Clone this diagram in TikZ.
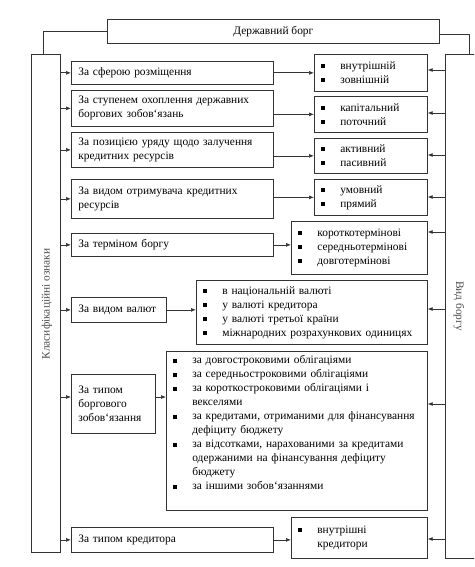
\documentclass[tikz,border=0pt]{standalone}
\usepackage{fontspec}
\setmainfont{Liberation Serif}
\usetikzlibrary{arrows.meta}
\newcommand\bl[1]{\makebox[19pt][l]{\raisebox{1.3pt}{\rule{4pt}{4pt}}}\mbox{#1}}
\newcommand\ct[1]{\hspace*{19pt}\mbox{#1}}
\newcommand\oneline[1]{\mbox{#1}}
\begin{document}
\begin{tikzpicture}[x=1pt,y=-1pt,
  font=\fontsize{11.4}{14}\selectfont,
  box/.style={draw=black!80, line width=0.7pt, anchor=north west, inner xsep=7pt, inner ysep=0pt, align=left},
  arr/.style={draw=black!80, line width=0.7pt, -{Latex[length=5pt,width=4pt]}},
  ln/.style={draw=black!80, line width=0.7pt},
  vlabel/.style={text=black!70, inner sep=0pt}]
\useasboundingbox (0,0) rectangle (474,567);
\clip (0,0) rectangle (474,567);

% title and side boxes
\node[box, minimum width=332pt, minimum height=24pt, align=center] (title) at (107,19) {Державний борг};
\node[box, minimum width=29pt, minimum height=498pt] (cls) at (31,54) {};
\node[box, minimum width=48pt, minimum height=504pt] (vb) at (445,54) {};
\node[vlabel, rotate=90] (clsT) at (47,304) {Класифікаційні ознаки};
\node[vlabel, rotate=-90] (vbT) at (459,306) {Вид боргу};

\draw[ln] (title.west) -| ([xshift=-2.5pt]cls.north);
\draw[ln] ([yshift=-3pt]title.east) -| (vb.north);

% category boxes
\node[box, minimum width=202pt, minimum height=23pt, text width=188pt] (c1) at (71,61) {\oneline{За сферою розміщення}};
\node[box, minimum width=202pt, minimum height=36pt, text width=188pt] (c2) at (71,90) {\oneline{За ступенем охоплення державних}\\ \oneline{боргових зобов`язань}};
\node[box, minimum width=202pt, minimum height=35pt, text width=188pt] (c3) at (71,132) {\oneline{За позицією уряду щодо залучення}\\ \oneline{кредитних ресурсів}};
\node[box, minimum width=202pt, minimum height=39pt, text width=188pt] (c4) at (71,179) {\oneline{За видом отримувача кредитних}\\ \oneline{ресурсів}};
\node[box, minimum width=202pt, minimum height=23pt, text width=188pt] (c5) at (71,233) {\oneline{За терміном боргу}};
\node[box, minimum width=95pt, minimum height=25pt, text width=81pt] (c6) at (71,297) {\oneline{За видом валют}};
\node[box, minimum width=84pt, minimum height=59pt, text width=70pt] (c7) at (71,374) {\oneline{За типом}\\ \oneline{боргового}\\ \oneline{зобов`язання}};
\node[box, minimum width=202pt, minimum height=25pt, text width=188pt] (c8) at (71,527) {\oneline{За типом кредитора}};

% list boxes
\node[box, minimum width=113pt, minimum height=37pt, text width=99pt] (l1) at (314,54) {\bl{внутрішній}\\ \bl{зовнішній}};
\node[box, minimum width=113pt, minimum height=36pt, text width=99pt] (l2) at (314,96) {\bl{капітальний}\\ \bl{поточний}};
\node[box, minimum width=113pt, minimum height=35pt, text width=99pt] (l3) at (314,138) {\bl{активний}\\ \bl{пасивний}};
\node[box, minimum width=113pt, minimum height=36pt, text width=99pt] (l4) at (314,179) {\bl{умовний}\\ \bl{прямий}};
\node[box, minimum width=136pt, minimum height=53pt, text width=122pt] (l5) at (291,221) {\bl{короткотермінові}\\ \bl{середньотермінові}\\ \bl{довготермінові}};
\node[box, minimum width=231pt, minimum height=64pt, text width=217pt] (l6) at (196,280) {\bl{в національній валюті}\\ \bl{у валюті кредитора}\\ \bl{у валюті третьої країни}\\ \bl{міжнародних розрахункових одиницях}};
\node[box, minimum width=261pt, minimum height=159pt, text width=247pt] (l7) at (166,351) {\bl{за довгостроковими облігаціями}\\ \bl{за середньостроковими облігаціями}\\ \bl{за короткостроковими облігаціями і}\\ \ct{векселями}\\ \bl{за кредитами, отриманими для фінансування}\\ \ct{дефіциту бюджету}\\ \bl{за відсотками, нарахованими за кредитами}\\ \ct{одержаними на фінансування дефіциту}\\ \ct{бюджету}\\ \bl{за іншими зобов`язаннями}\rule[-16pt]{0pt}{1pt}};
\node[box, minimum width=136pt, minimum height=41pt, text width=122pt] (l8) at (291,517) {\bl{внутрішні}\\ \ct{кредитори}};

% arrows from the left side box
\foreach \c in {c1,c2,c3,c4,c5,c6,c8}
  \draw[arr] (cls.east |- \c.west) -- (\c.west);
\draw[arr] (cls.east |- 0,397) -- (c7.west |- 0,397);

% arrows from categories to lists
\draw[arr] (c1.east) -- (c1.east -| l1.west);
\draw[arr] (c2.east |- l2.west) -- (l2.west);
\draw[arr] (c3.east |- l3.west) -- (l3.west);
\draw[arr] (c4.east |- l4.west) -- (l4.west);
\draw[arr] (c5.east) -- (c5.east -| l5.west);
\draw[arr] (c6.east) -- (c6.east -| l6.west);
\draw[arr] (c7.east |- 0,397) -- (l7.west |- 0,397);
\draw[arr] (c8.east) -- (c8.east -| l8.west);

% arrows from the right side box
\draw[arr] (vb.west |- 0,70) -- (l1.east |- 0,70);
\draw[arr] (vb.west |- 0,113) -- (l2.east |- 0,113);
\draw[arr] (vb.west |- 0,155) -- (l3.east |- 0,155);
\draw[arr] (vb.west |- 0,197) -- (l4.east |- 0,197);
\draw[arr] (vb.west |- 0,232) -- (l5.east |- 0,232);
\draw[arr] (vb.west |- 0,309) -- (l6.east |- 0,309);
\draw[arr] (vb.west |- 0,404) -- (l7.east |- 0,404);
\draw[arr] (vb.west |- 0,539) -- (l8.east |- 0,539);
\end{tikzpicture}
\end{document}
